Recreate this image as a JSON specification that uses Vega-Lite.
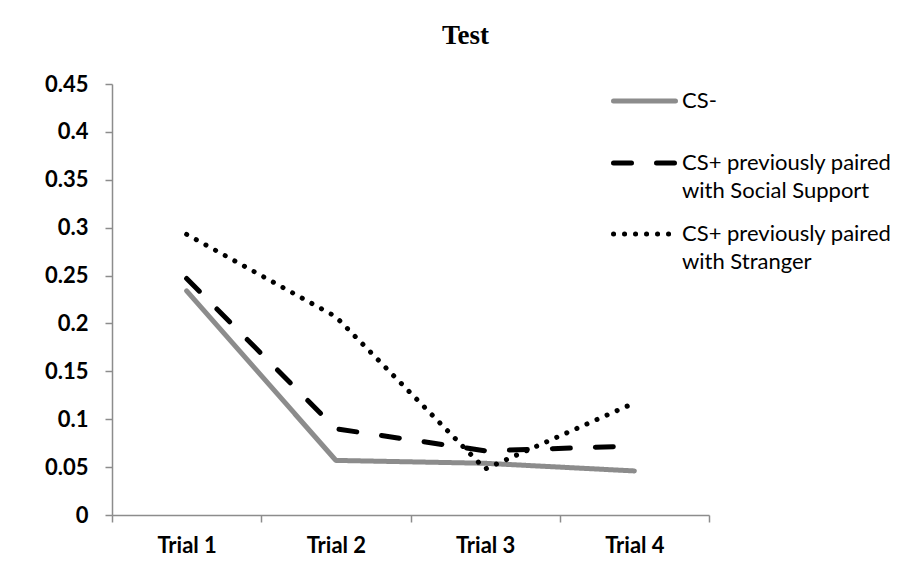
{
  "$schema": "https://vega.github.io/schema/vega-lite/v6.json",
  "width": 597,
  "height": 431,
  "autosize": {"type": "none"},
  "padding": {"left": 112, "top": 84, "right": 202, "bottom": 66},
  "background": "white",
  "title": {
    "text": "Test",
    "font": "Liberation Serif",
    "fontSize": 27,
    "fontWeight": "bold",
    "color": "black",
    "anchor": "middle",
    "frame": "group",
    "dx": 55,
    "baseline": "alphabetic",
    "offset": 0
  },
  "config": {
    "view": {"stroke": null},
    "font": "Lato",
    "style": {"guide-label": {"lineHeight": 28}}
  },
  "data": {
    "values": [
      {"trial": "Trial 1", "series": "CS-", "value": 0.234},
      {"trial": "Trial 2", "series": "CS-", "value": 0.057},
      {"trial": "Trial 3", "series": "CS-", "value": 0.054},
      {"trial": "Trial 4", "series": "CS-", "value": 0.046},
      {"trial": "Trial 1", "series": "CS+ previously paired with Social Support", "value": 0.247},
      {"trial": "Trial 2", "series": "CS+ previously paired with Social Support", "value": 0.090},
      {"trial": "Trial 3", "series": "CS+ previously paired with Social Support", "value": 0.067},
      {"trial": "Trial 4", "series": "CS+ previously paired with Social Support", "value": 0.072},
      {"trial": "Trial 1", "series": "CS+ previously paired with Stranger", "value": 0.293},
      {"trial": "Trial 2", "series": "CS+ previously paired with Stranger", "value": 0.207},
      {"trial": "Trial 3", "series": "CS+ previously paired with Stranger", "value": 0.048},
      {"trial": "Trial 4", "series": "CS+ previously paired with Stranger", "value": 0.117}
    ]
  },
  "mark": {"type": "line", "strokeWidth": 5, "strokeJoin": "round", "strokeCap": "round"},
  "encoding": {
    "x": {
      "field": "trial",
      "type": "nominal",
      "scale": {"paddingInner": 0, "paddingOuter": 0},
      "axis": {
        "title": null,
        "labelAngle": 0,
        "labelFont": "Lato",
        "labelFontWeight": "bold",
        "labelFontSize": 22,
        "labelColor": "black",
        "labelPadding": 13,
        "domainColor": "#8c8c8c",
        "domainWidth": 1.5,
        "tickColor": "#8c8c8c",
        "tickWidth": 1.5,
        "tickSize": 7,
        "tickBand": "extent"
      }
    },
    "y": {
      "field": "value",
      "type": "quantitative",
      "scale": {"domain": [0, 0.45], "nice": false, "zero": true},
      "axis": {
        "title": null,
        "values": [0, 0.05, 0.1, 0.15, 0.2, 0.25, 0.3, 0.35, 0.4, 0.45],
        "format": "~g",
        "grid": false,
        "labelFont": "Lato",
        "labelFontWeight": "bold",
        "labelFontSize": 22,
        "labelColor": "black",
        "labelPadding": 17,
        "domainColor": "#8c8c8c",
        "domainWidth": 1.5,
        "tickColor": "#8c8c8c",
        "tickWidth": 1.5,
        "tickSize": 7
      }
    },
    "color": {
      "field": "series",
      "type": "nominal",
      "scale": {
        "domain": ["CS-", "CS+ previously paired with Social Support", "CS+ previously paired with Stranger"],
        "range": ["#8c8c8c", "#000000", "#000000"]
      },
      "legend": {
        "title": null,
        "orient": "none",
        "legendX": 499,
        "legendY": -13,
        "padding": 0,
        "symbolType": "stroke",
        "symbolSize": 3844,
        "symbolStrokeWidth": 5,
        "labelFont": "Lato",
        "labelFontSize": 22,
        "labelColor": "black",
        "labelOffset": 4,
        "labelLimit": 400,
        "clipHeight": 60,
        "labelExpr": "indexof(datum.label, ' with ') > 0 ? [substring(datum.label, 0, indexof(datum.label, ' with ')), substring(datum.label, indexof(datum.label, ' with ') + 1)] : datum.label",
        "rowPadding": 2,
        "encode": {"symbols": {"update": {"strokeCap": {"value": "round"}}}}
      }
    },
    "strokeDash": {
      "field": "series",
      "type": "nominal",
      "scale": {
        "domain": ["CS-", "CS+ previously paired with Social Support", "CS+ previously paired with Stranger"],
        "range": [[1, 0], [18, 25], [0.1, 10.9]]
      },
      "legend": null
    }
  }
}
